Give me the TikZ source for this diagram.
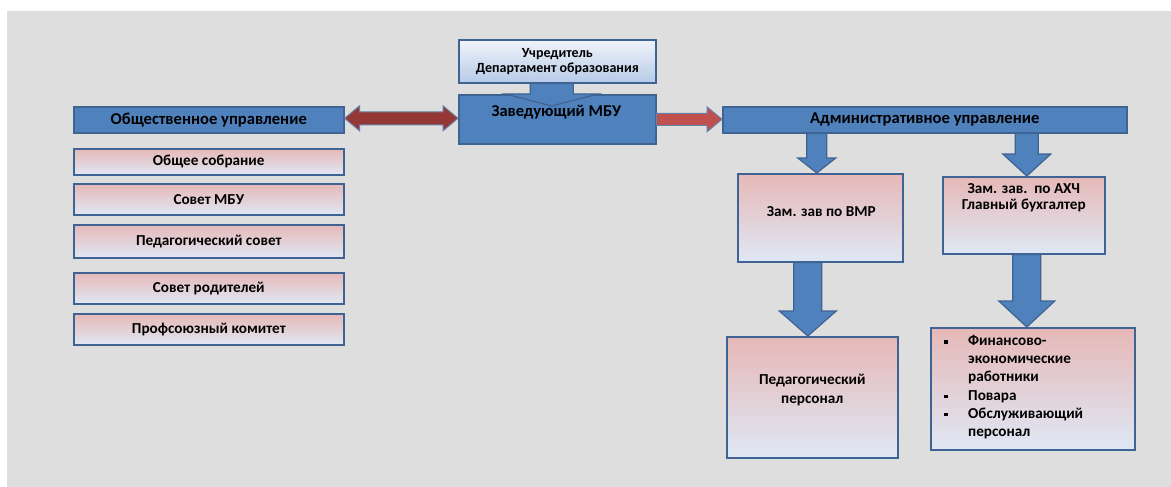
\documentclass[tikz,border=0pt]{standalone}
\usepackage{fontspec}
\setmainfont{Carlito}
\usetikzlibrary{calc}
\definecolor{bggray}{HTML}{DEDEDE}
\definecolor{boxblue}{HTML}{4F81BD}
\definecolor{boxline}{HTML}{3F6392}
\definecolor{darkred}{HTML}{953735}
\definecolor{lightred}{HTML}{C0504D}
\definecolor{gpink}{HTML}{E6B8B7}
\definecolor{gblue}{HTML}{C4D4EC}
\definecolor{glight}{HTML}{DFE8F5}
\definecolor{ftop}{HTML}{F0F4FA}
\definecolor{fbot}{HTML}{B6CAE7}
\tikzset{
  basebox/.style={draw=boxline, line width=1.6pt, rectangle, inner sep=0pt, anchor=north west, text=black},
  darkbox/.style={basebox, fill=boxblue, font=\bfseries\fontsize{16.6}{19}\selectfont},
  gradbox/.style={basebox, top color=gpink, middle color=gblue, bottom color=glight, font=\bfseries\fontsize{15.2}{18}\selectfont},
  foundbox/.style={basebox, top color=ftop, bottom color=fbot},
  txt/.style={inner sep=0pt, align=center, text=black, font=\bfseries\fontsize{15.2}{18}\selectfont},
  bluearrow/.style={fill=boxblue, draw=boxline, line width=1.2pt, line join=miter},
  redarrow/.style={fill=darkred, draw=boxline!80, line width=1pt},
  redarrowlight/.style={fill=lightred, draw=boxline!80, line width=1pt},
  bullet/.style={fill=black, inner sep=0pt, minimum size=3.8pt, rectangle}
}
% down block arrow: #1 style, #2 from node anchor, #3 tip, #4 x offset, #5 shaft half, #6 head half, #7 head length
\newcommand\blkdown[7]{%
  \path[#1] let \p1=(#2), \p2=(#3) in
    ({\x2+#4-#5},\y1) -- ({\x2+#4+#5},\y1) -- ({\x2+#4+#5},{\y2+#7}) --
    ({\x2+#4+#6},{\y2+#7}) -- ({\x2+#4},\y2) -- ({\x2+#4-#6},{\y2+#7}) --
    ({\x2+#4-#5},{\y2+#7}) -- cycle;}
% right block arrow: #1 style, #2 from, #3 to, #4 y offset, #5 shaft half, #6 head half, #7 head length
\newcommand\blkright[7]{%
  \path[#1] let \p1=(#2), \p2=(#3) in
    (\x1,{\y2+#4+#5}) -- ({\x2-#7},{\y2+#4+#5}) -- ({\x2-#7},{\y2+#4+#6}) --
    (\x2,{\y2+#4}) -- ({\x2-#7},{\y2+#4-#6}) -- ({\x2-#7},{\y2+#4-#5}) --
    (\x1,{\y2+#4-#5}) -- cycle;}
% double block arrow
\newcommand\blkboth[7]{%
  \path[#1] let \p1=(#2), \p2=(#3) in
    (\x1,{\y1+#4}) -- ({\x1+#7},{\y1+#4+#6}) -- ({\x1+#7},{\y1+#4+#5}) --
    ({\x2-#7},{\y1+#4+#5}) -- ({\x2-#7},{\y1+#4+#6}) -- (\x2,{\y1+#4}) --
    ({\x2-#7},{\y1+#4-#6}) -- ({\x2-#7},{\y1+#4-#5}) -- ({\x1+#7},{\y1+#4-#5}) --
    ({\x1+#7},{\y1+#4-#6}) -- cycle;}
\begin{document}
\begin{tikzpicture}[x=1pt,y=-1pt]
\useasboundingbox (0,0) rectangle (1171,487);
\fill[white] (0,0) rectangle (1171,487);
\fill[bggray] (7,11) rectangle (1171,487);

% top centre
\node[foundbox, minimum width=197pt, minimum height=43pt] (founder) at (458,39) {};
\node[txt, font=\bfseries\fontsize{14}{15}\selectfont] (foundertxt) at (founder.center) {Учредитель\\Департамент образования};
\node[darkbox, minimum width=197pt, minimum height=49pt] (head) at (458,94) {};
\node[txt, font=\bfseries\fontsize{16.5}{18}\selectfont] (headtxt) at ($(head.north)+(-1,18)$) {Заведующий МБУ};
\coordinate (headtip) at ($(head.north)+(-5.5,12)$);

% left column
\node[darkbox, minimum width=270pt, minimum height=26pt] (obsh) at (73,106) {Общественное управление};
\node[gradbox, minimum width=270pt, minimum height=26pt] (s1) at (73,148) {Общее собрание};
\node[gradbox, minimum width=270pt, minimum height=31pt] (s2) at (73,183) {Совет МБУ};
\node[gradbox, minimum width=270pt, minimum height=33pt] (s3) at (73,224) {Педагогический совет};
\node[gradbox, minimum width=270pt, minimum height=31pt] (s4) at (73,272) {Совет родителей};
\node[gradbox, minimum width=270pt, minimum height=31pt] (s5) at (73,313) {Профсоюзный комитет};

% right part
\node[darkbox, minimum width=404pt, minimum height=26pt] (adm) at (722,106) {Административное управление};
\node[gradbox, minimum width=165pt, minimum height=88pt] (vmr) at (737,173) {};
\node[txt] (vmrtxt) at ($(vmr.north)+(1,39)$) {Зам. зав по ВМР};
\node[gradbox, minimum width=162pt, minimum height=77pt] (ahch) at (942,176) {};
\node[txt, font=\bfseries\fontsize{15.2}{16}\selectfont] (ahchtxt) at ($(ahch.north)+(0,22)$) {Зам. зав.~~по АХЧ\\Главный бухгалтер};
\node[gradbox, minimum width=171pt, minimum height=121pt] (ped) at (726,336) {};
\node[txt, font=\bfseries\fontsize{15.2}{19}\selectfont] (pedtxt) at ($(ped.north)+(0,54.5)$) {Педагогический\\персонал};
\node[gradbox, minimum width=204pt, minimum height=122pt] (staff) at (930,327) {};
\node[txt, align=left, anchor=north west, font=\bfseries\fontsize{15.2}{18.2}\selectfont] (stafftxt) at ($(staff.north west)+(38,8)$) {Финансово-\\экономические\\работники\\Повара\\Обслуживающий\\персонал};
\node[bullet] (b1) at (946,342) {};
\node[bullet] (b2) at (946,396.5) {};
\node[bullet] (b3) at (946,414.5) {};

% block arrows
\blkdown{bluearrow}{founder.south}{headtip}{0pt}{21.5pt}{46pt}{12pt}
\blkboth{redarrow}{obsh.east}{head.west}{1.5pt}{6.5pt}{12.5pt}{15pt}
\blkright{redarrowlight}{head.east}{adm.west}{0.5pt}{6pt}{12.5pt}{15pt}
\blkdown{bluearrow}{adm.south}{vmr.north}{-3.5pt}{10pt}{19pt}{15pt}
\blkdown{bluearrow}{adm.south}{ahch.north}{3pt}{11.5pt}{24pt}{22pt}
\blkdown{bluearrow}{vmr.south}{ped.north}{-4.5pt}{14pt}{28.5pt}{25pt}
\blkdown{bluearrow}{ahch.south}{staff.north}{-6pt}{14pt}{28pt}{26pt}
\end{tikzpicture}
\end{document}
